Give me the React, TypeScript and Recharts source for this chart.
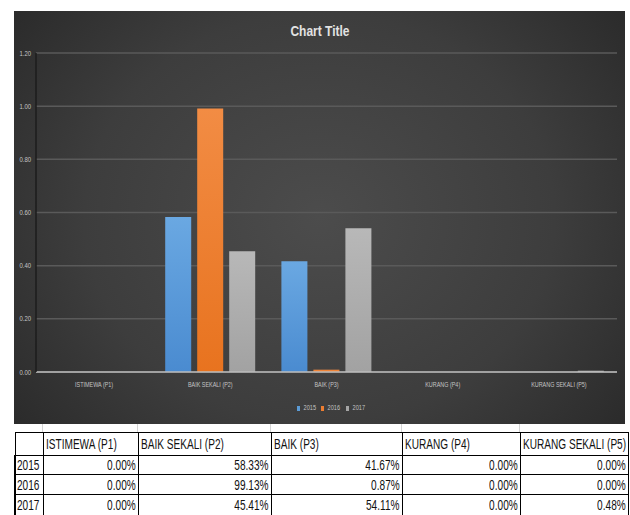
import { Bar, BarChart, CartesianGrid, XAxis, YAxis } from "recharts";

const categories = ["ISTIMEWA (P1)", "BAIK SEKALI (P2)", "BAIK (P3)", "KURANG (P4)", "KURANG SEKALI (P5)"];
const years = ["2015", "2016", "2017"];
const values2015 = [0, 0.5833, 0.4167, 0, 0];
const values2016 = [0, 0.9913, 0.0087, 0, 0];
const values2017 = [0, 0.4541, 0.5411, 0, 0.0048];
const yTicks = [0, 0.2, 0.4, 0.6, 0.8, 1.0, 1.2];

const series = [values2015, values2016, values2017];
const colors = [
  ["#6aa8e2", "#4a8bd0", "#5b9bd5"],
  ["#f28c44", "#e8731f", "#ed7d31"],
  ["#b8b8b8", "#a2a2a2", "#a5a5a5"],
];

const data = categories.map((name, i) => ({
  name,
  "2015": values2015[i],
  "2016": values2016[i],
  "2017": values2017[i],
}));

const font = "'Liberation Sans', Arial, sans-serif";
const colWidths = [28, 95, 133, 131, 118, 108];
const rowHeights = [23, 19, 20, 21];

const pct = (v: number) => (v * 100).toFixed(2) + "%";

// condensed text: the narrow Office font isn't available, so squeeze a normal one
function XTick({ x, y, payload }: any) {
  return (
    <text transform={`translate(${x},${y + 7}) scale(0.68,1)`} textAnchor="middle" fill="#c4c4c4" fontSize={8} fontFamily={font}>
      {payload.value}
    </text>
  );
}

function YTick({ x, y, payload }: any) {
  return (
    <text transform={`translate(${x},${y + 2.5}) scale(0.85,1)`} textAnchor="end" fill="#c4c4c4" fontSize={7} fontFamily={font}>
      {Number(payload.value).toFixed(2)}
    </text>
  );
}

function Squeeze({ children, align }: { children: any; align: "left" | "right" }) {
  return (
    <span style={{ display: "inline-block", transform: "scaleX(0.72)", transformOrigin: align, whiteSpace: "nowrap" }}>
      {children}
    </span>
  );
}

const cell = { border: "1px solid #000", padding: "0 2px", overflow: "hidden", whiteSpace: "nowrap" as const };

export default function App() {
  return (
    <div style={{ position: "absolute", left: 0, top: 0, width: 630, height: 515, background: "#fff", overflow: "hidden" }}>
      <div
        style={{
          position: "absolute",
          left: 14,
          top: 11,
          width: 611,
          height: 413,
          background: "radial-gradient(ellipse 70% 90% at 50% 50%, #4c4c4c 0%, #3d3d3d 55%, #262626 100%)",
        }}
      >
        <BarChart
          width={611}
          height={413}
          data={data}
          margin={{ top: 42, right: 8, bottom: 22, left: 0 }}
          barCategoryGap={13}
          barGap={6}
        >
          <defs>
            {colors.map((c, i) => (
              <linearGradient key={i} id={"g" + i} x1="0" y1="0" x2="0" y2="1">
                <stop offset="0%" stopColor={c[0]} />
                <stop offset="100%" stopColor={c[1]} />
              </linearGradient>
            ))}
          </defs>
          <text transform="translate(306,25) scale(0.8,1)" textAnchor="middle" fill="#e2e2e2" fontFamily={font} fontWeight="bold" fontSize={15}>
            Chart Title
          </text>
          <CartesianGrid vertical={false} stroke="#5a5a5a" strokeWidth={1.5} />
          <XAxis
            dataKey="name"
            height={30}
            tickLine={false}
            axisLine={{ stroke: "#bdbdbd", strokeWidth: 1.5 }}
            tick={<XTick />}
            interval={0}
          />
          <YAxis
            width={22}
            domain={[0, 1.2]}
            ticks={yTicks}
            tickLine={false}
            tickSize={0}
            tickMargin={5}
            axisLine={{ stroke: "#1c1c1c", strokeWidth: 1.5 }}
            tick={<YTick />}
          />
          {years.map((y, i) => (
            <Bar key={y} dataKey={y} fill={`url(#g${i})`} isAnimationActive={false} />
          ))}
        </BarChart>
        <div
          style={{
            position: "absolute",
            left: 0,
            top: 393,
            width: 611,
            textAlign: "center",
            fontFamily: font,
            fontSize: 7,
            color: "#c4c4c4",
            paddingLeft: 14,
          }}
        >
          {years.map((y, i) => (
            <span key={y} style={{ marginRight: 4 }}>
              <span style={{ display: "inline-block", width: 3, height: 5, background: colors[i][2], marginRight: 2, verticalAlign: "-1px" }} />
              <span style={{ display: "inline-block", transform: "scaleX(0.8)" }}>{y}</span>
            </span>
          ))}
        </div>
      </div>
      {colWidths.slice(0, 5).map((w, i) => {
        const x = 14 + colWidths.slice(0, i + 1).reduce((a, b) => a + b, 0);
        return <div key={i} style={{ position: "absolute", left: x, top: 424, width: 1, height: 8, background: "#d4d4d4" }} />;
      })}
      <table
        style={{
          position: "absolute",
          left: 14,
          top: 432,
          width: colWidths.reduce((a, b) => a + b, 0),
          borderCollapse: "collapse",
          tableLayout: "fixed",
          fontFamily: font,
          fontSize: 14,
          color: "#111",
        }}
      >
        <colgroup>
          {colWidths.map((w, i) => (
            <col key={i} style={{ width: w }} />
          ))}
        </colgroup>
        <tbody>
          <tr style={{ height: rowHeights[0] }}>
            <td style={cell} />
            {categories.map((c) => (
              <td key={c} style={{ ...cell, textAlign: "left" }}>
                <Squeeze align="left">{c}</Squeeze>
              </td>
            ))}
          </tr>
          {years.map((y, r) => (
            <tr key={y} style={{ height: rowHeights[r + 1] }}>
              <td style={{ ...cell, borderLeftWidth: 2, padding: "0 1px" }}>
                <Squeeze align="left">{y}</Squeeze>
              </td>
              {series[r].map((v, i) => (
                <td key={i} style={{ ...cell, textAlign: "right" }}>
                  <Squeeze align="right">{pct(v)}</Squeeze>
                </td>
              ))}
            </tr>
          ))}
        </tbody>
      </table>
    </div>
  );
}
